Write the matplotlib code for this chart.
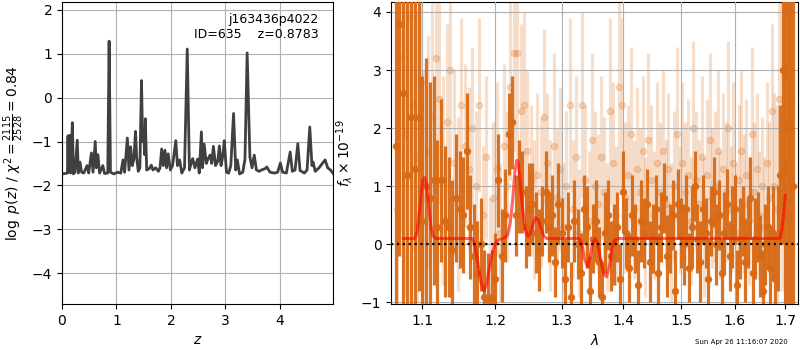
import matplotlib
matplotlib.use("Agg")
import matplotlib.pyplot as plt
from matplotlib.ticker import NullLocator, NullFormatter, FixedLocator, FixedFormatter

# p(z) curve
z = [0.00, 0.05, 0.10, 0.11, 0.12, 0.14, 0.16, 0.19, 0.21, 0.24,
     0.28, 0.30, 0.33, 0.36, 0.40, 0.46, 0.49, 0.54, 0.57, 0.61,
     0.63, 0.66, 0.69, 0.75, 0.78, 0.84, 0.865, 0.89, 0.95, 1.02,
     1.08, 1.12, 1.15, 1.20, 1.23, 1.26, 1.29, 1.32, 1.35, 1.37,
     1.40, 1.43, 1.46, 1.48, 1.50, 1.52, 1.53, 1.555, 1.60, 1.64,
     1.67, 1.72, 1.77, 1.80, 1.83, 1.86, 1.89, 1.92, 1.95, 1.99,
     2.03, 2.09, 2.12, 2.16, 2.20, 2.25, 2.30, 2.34, 2.37, 2.40,
     2.44, 2.49, 2.52, 2.56, 2.58, 2.61, 2.65, 2.68, 2.72, 2.75,
     2.78, 2.82, 2.86, 2.89, 2.92, 2.95, 2.98, 3.02, 3.06, 3.10,
     3.15, 3.19, 3.22, 3.26, 3.32, 3.36, 3.40, 3.45, 3.49, 3.53,
     3.57, 3.62, 3.68, 3.73, 3.76, 3.82, 3.90, 3.96, 4.01, 4.05,
     4.12, 4.19, 4.23, 4.28, 4.33, 4.37, 4.45, 4.50, 4.55, 4.59,
     4.61, 4.65, 4.72, 4.78, 4.83, 4.88, 4.93, 4.98]
logpz = [-1.74, -1.73, -1.72, -0.87, -1.70, -0.86, -1.72, -0.57, -1.74, -1.70,
         -0.97, -1.72, -1.47, -1.70, -1.72, -1.55, -1.72, -1.26, -1.70, -1.00,
         -1.60, -1.30, -1.72, -1.55, -1.73, -1.72, 1.29, -1.70, -1.74, -1.70,
         -1.72, -1.42, -1.70, -0.92, -1.65, -1.12, -1.55, -1.40, -0.77, -1.35,
         -1.68, -1.60, 0.39, -1.00, -0.86, -1.30, -0.48, -1.65, -1.62, -1.54,
         -1.65, -1.60, -1.68, -1.60, -1.17, -1.55, -1.20, -1.60, -1.28, -1.65,
         -1.55, -0.98, -1.55, -1.42, -1.72, -1.60, 1.11, -1.65, -1.50, -1.39,
         -1.60, -1.40, -1.72, -0.78, -1.60, -1.06, -1.50, -1.40, -1.31, -1.50,
         -1.11, -1.55, -1.45, -1.10, -1.55, -1.35, -0.98, -1.70, -1.72, -1.55,
         -0.36, -1.65, -1.42, -1.74, -1.70, -1.40, 1.02, -1.35, -1.60, -1.31,
         -1.65, -1.68, -1.64, -1.62, -1.58, -1.70, -1.72, -1.70, -1.49, -1.70,
         -1.72, -1.24, -1.68, -1.65, -1.05, -1.66, -1.72, -1.65, -0.67, -1.55,
         -1.47, -1.68, -1.60, -1.50, -1.42, -1.60, -1.65, -1.73]

# spectrum, solid points
wave_a = [1.065, 1.070, 1.075, 1.080, 1.085, 1.090, 1.095, 1.100, 1.105, 1.110,
          1.115, 1.120, 1.125, 1.130, 1.135, 1.140, 1.145, 1.150, 1.155, 1.160,
          1.165, 1.170, 1.175, 1.180, 1.185, 1.190, 1.195, 1.200, 1.205, 1.210,
          1.215, 1.220, 1.225, 1.230, 1.235, 1.240, 1.245, 1.250, 1.255, 1.260,
          1.265, 1.270, 1.275, 1.280, 1.285, 1.290, 1.295, 1.300, 1.305, 1.310,
          1.315, 1.320, 1.325, 1.330, 1.335, 1.340, 1.345, 1.350, 1.355, 1.360,
          1.365, 1.370, 1.375, 1.380, 1.385, 1.390, 1.395, 1.400, 1.405, 1.410,
          1.415, 1.420, 1.425, 1.430, 1.435, 1.440, 1.445, 1.450, 1.455, 1.460,
          1.465, 1.470, 1.475, 1.480, 1.485, 1.490, 1.495, 1.500, 1.505, 1.510,
          1.515, 1.520, 1.525, 1.530, 1.535, 1.540, 1.545, 1.550, 1.555, 1.560,
          1.565, 1.570, 1.575, 1.580, 1.585, 1.590, 1.595, 1.600, 1.605, 1.610,
          1.615, 1.620, 1.625, 1.630, 1.635, 1.640, 1.645, 1.650, 1.655, 1.660,
          1.665, 1.670, 1.675, 1.680, 1.685, 1.690, 1.695, 1.700, 1.705, 1.710,
          1.715]
flux_a = [1.7, 3.8, 2.6, 1.2, 2.2, 1.3, 2.2, 0.4, 1.0, 0.8,
          1.1, 0.3, 1.1, 0.4, 0.3, -0.1, 0.8, 0.6, 0.5, 1.6,
          0.3, -0.2, -0.5, 0.0, -0.9, -0.95, -0.9, -0.6, 1.1, -0.2,
          0.5, 1.9, 2.1, 0.5, 1.0, 0.9, 0.3, 0.6, 0.7, 0.2,
          -0.1, 0.4, 0.9, 0.3, 0.5, -0.3, 0.7, 0.2, -0.6, 0.3,
          -0.9, 0.4, 0.0, -0.5, 0.6, 0.3, -0.8, 0.1, 0.4, -0.3,
          -0.9, 0.2, 0.5, -0.2, 0.0, 0.3, -0.6, 0.9, 0.2, -0.4,
          0.5, 0.1, -0.7, 0.4, 0.2, 0.7, -0.3, 0.1, 0.6, -0.5,
          0.3, 0.8, -0.2, 0.1, 0.5, -0.8, 0.7, 0.2, 0.0, 0.6,
          -0.4, 0.3, 1.0, 0.1, -0.3, 0.6, 0.2, -0.6, 0.4, 0.9,
          0.0, 0.5, -0.5, 0.2, 0.7, -0.2, 0.3, 0.6, -0.7, 0.1,
          0.4, -0.3, 0.2, 0.8, -0.5, 0.1, 0.3, -0.2, -0.8, 0.0,
          0.3, -0.4, 0.2, -0.6, 0.1, 1.2, 3.0, 1.3, 0.5, 2.0,
          1.0]
err_a = [4.0, 4.0, 4.0, 3.5, 3.5, 3.0, 3.0, 2.5, 2.2, 2.0,
         1.8, 1.5, 1.4, 1.3, 1.2, 1.2, 1.1, 1.0, 1.0, 1.0,
         0.9, 0.9, 0.9, 0.8, 0.8, 0.8, 0.8, 0.8, 0.8, 0.8,
         0.8, 0.7, 0.8, 0.7, 0.8, 0.7, 0.7, 0.8, 0.7, 0.7,
         0.7, 0.6, 0.7, 0.6, 0.7, 0.6, 0.7, 0.6, 0.7, 0.6,
         0.6, 0.7, 0.6, 0.7, 0.6, 0.7, 0.6, 0.6, 0.7, 0.6,
         0.6, 0.7, 0.6, 0.6, 0.7, 0.6, 0.6, 0.7, 0.6, 0.6,
         0.7, 0.6, 0.6, 0.7, 0.6, 0.6, 0.7, 0.6, 0.6, 0.7,
         0.6, 0.6, 0.7, 0.6, 0.6, 0.7, 0.6, 0.6, 0.7, 0.6,
         0.6, 0.7, 0.6, 0.6, 0.7, 0.6, 0.6, 0.7, 0.6, 0.6,
         0.7, 0.6, 0.6, 0.7, 0.6, 0.6, 0.7, 0.6, 0.6, 0.7,
         0.6, 0.7, 0.6, 0.7, 0.6, 0.7, 0.6, 0.7, 0.7, 0.7,
         0.7, 0.7, 0.8, 0.8, 0.9, 1.2, 3.0, 4.0, 5.0, 6.0,
         6.0]

# spectrum, faint points
wave_b = [1.0675, 1.0725, 1.0775, 1.0825, 1.0875, 1.0925, 1.0975, 1.1025, 1.1075, 1.1125,
          1.1175, 1.1225, 1.1275, 1.1325, 1.1375, 1.1425, 1.1475, 1.1525, 1.1575, 1.1625,
          1.1675, 1.1725, 1.1775, 1.1825, 1.1875, 1.1925, 1.1975, 1.2025, 1.2075, 1.2125,
          1.2175, 1.2225, 1.2275, 1.2325, 1.2375, 1.2425, 1.2475, 1.2525, 1.2575, 1.2625,
          1.2675, 1.2725, 1.2775, 1.2825, 1.2875, 1.2925, 1.2975, 1.3025, 1.3075, 1.3125,
          1.3175, 1.3225, 1.3275, 1.3325, 1.3375, 1.3425, 1.3475, 1.3525, 1.3575, 1.3625,
          1.3675, 1.3725, 1.3775, 1.3825, 1.3875, 1.3925, 1.3975, 1.4025, 1.4075, 1.4125,
          1.4175, 1.4225, 1.4275, 1.4325, 1.4375, 1.4425, 1.4475, 1.4525, 1.4575, 1.4625,
          1.4675, 1.4725, 1.4775, 1.4825, 1.4875, 1.4925, 1.4975, 1.5025, 1.5075, 1.5125,
          1.5175, 1.5225, 1.5275, 1.5325, 1.5375, 1.5425, 1.5475, 1.5525, 1.5575, 1.5625,
          1.5675, 1.5725, 1.5775, 1.5825, 1.5875, 1.5925, 1.5975, 1.6025, 1.6075, 1.6125,
          1.6175, 1.6225, 1.6275, 1.6325, 1.6375, 1.6425, 1.6475, 1.6525, 1.6575, 1.6625,
          1.6675, 1.6725, 1.6775, 1.6825, 1.6875, 1.6925, 1.6975, 1.7025, 1.7075, 1.7125]
flux_b = [0.6, 3.2, 1.9, 3.9, 2.4, 1.5, 2.8, 0.8, 1.6, 2.2,
          3.2, 2.5, 1.1, 2.1, 3.0, 1.4, 0.7, 2.4, 1.7, 1.3,
          2.0, 1.0, 2.4, 0.5, 1.5, -0.3, 0.8, 1.3, 0.2, 1.7,
          1.0, 2.7, 3.3, 3.3, 2.3, 2.4, 1.6, 1.1, 0.6, 1.2,
          0.9, 2.2, 1.4, 0.5, 1.7, 0.8, 1.3, 0.3, 1.0, 2.4,
          0.6, 1.5, 0.2, 2.4, 1.1, 0.4, 1.8, 1.0, 0.7, 1.5,
          0.9, 0.3, 2.3, 1.4, 0.5, 2.7, 2.4, 0.8, 1.2, 1.9,
          0.6, 1.3, 0.9, 1.6, 0.3, 1.8, 1.1, 0.5, 1.4, 0.9,
          1.6, 0.7, 1.3, 0.2, 1.0, 1.9, 0.6, 1.4, 0.9, 1.2,
          0.4, 2.0, 1.1, 0.7, 1.5, 0.3, 1.2, 1.8, 0.8, 1.0,
          1.6, 0.5, 1.3, 0.9, 2.0, 0.6, 1.4, 0.2, 1.1, 1.6,
          0.7, 1.2, 0.4, 1.9, 0.9, 1.3, 0.5, 1.0, 0.3, 1.4,
          0.8, 2.3, 1.0, 0.6, 2.5, 1.7, 3.0, 2.9, 4.0, 2.5]
err_b = [3.0, 3.0, 2.8, 2.8, 2.5, 2.5, 2.3, 2.2, 2.0, 2.0,
         1.9, 1.8, 1.8, 1.7, 1.6, 1.6, 1.5, 1.5, 1.4, 1.4,
         1.4, 1.3, 1.5, 1.2, 1.4, 1.1, 1.3, 1.5, 1.2, 1.4,
         1.3, 1.6, 1.7, 1.8, 1.5, 1.6, 1.4, 1.3, 1.2, 1.4,
         1.3, 1.5, 1.2, 1.3, 1.6, 1.2, 1.4, 1.1, 1.3, 1.5,
         1.2, 1.4, 1.1, 1.6, 1.3, 1.2, 1.5, 1.3, 1.2, 1.4,
         1.3, 1.1, 1.6, 1.4, 1.2, 1.8, 1.5, 1.3, 1.2, 1.5,
         1.2, 1.4, 1.1, 1.3, 1.2, 1.5, 1.3, 1.1, 1.4, 1.2,
         1.4, 1.1, 1.3, 1.2, 1.3, 1.5, 1.1, 1.4, 1.2, 1.3,
         1.1, 1.5, 1.2, 1.1, 1.4, 1.2, 1.3, 1.5, 1.2, 1.3,
         1.4, 1.1, 1.3, 1.2, 1.5, 1.1, 1.4, 1.2, 1.3, 1.4,
         1.2, 1.3, 1.1, 1.5, 1.2, 1.3, 1.1, 1.2, 1.2, 1.4,
         1.3, 1.5, 1.6, 1.8, 2.0, 2.5, 3.0, 3.5, 4.0, 4.0]

# best-fit model
wave_m = [1.075, 1.090, 1.093, 1.096, 1.099, 1.101, 1.103, 1.105, 1.108, 1.111,
          1.114, 1.118, 1.168, 1.172, 1.176, 1.180, 1.184, 1.188, 1.192, 1.196,
          1.200, 1.205, 1.212, 1.218, 1.222, 1.226, 1.229, 1.232, 1.234, 1.237,
          1.240, 1.244, 1.248, 1.252, 1.256, 1.260, 1.264, 1.268, 1.272, 1.277,
          1.328, 1.332, 1.336, 1.341, 1.345, 1.349, 1.353, 1.357, 1.362, 1.367,
          1.372, 1.377, 1.381, 1.386, 1.392, 1.689, 1.693, 1.697, 1.700]
flux_m = [0.10, 0.10, 0.22, 0.55, 0.95, 1.12, 1.15, 1.05, 0.70, 0.33,
          0.14, 0.10, 0.10, -0.05, -0.35, -0.65, -0.80, -0.68, -0.40, -0.15,
          0.00, 0.08, 0.10, 0.15, 0.35, 0.80, 1.25, 1.45, 1.40, 1.05,
          0.65, 0.28, 0.14, 0.18, 0.35, 0.46, 0.42, 0.28, 0.15, 0.10,
          0.10, 0.00, -0.25, -0.39, -0.22, 0.02, 0.10, 0.02, -0.25, -0.50,
          -0.56, -0.35, -0.05, 0.08, 0.10, 0.10, 0.25, 0.55, 0.84]

orange = "#d86a16"

fig = plt.figure(figsize=(8, 3.5), dpi=100)
ax1 = fig.add_axes([0.0775, 0.131, 0.339, 0.863])
ax2 = fig.add_axes([0.489, 0.131, 0.509, 0.863])

# left: p(z)
ax1.plot(z, logpz, color="#404040", lw=2)
ax1.set_xlim(0, 4.98)
ax1.set_ylim(-4.71, 2.18)
ax1.set_xticks([0, 1, 2, 3, 4])
ax1.set_yticks([-4, -3, -2, -1, 0, 1, 2])
ax1.grid(True)
ax1.set_xlabel("$z$")
ax1.set_ylabel(r"$\log\ p(z)$ / $\chi^2=\frac{2115}{2528}=0.84$")
ax1.text(0.945, 0.965, "j163436p4022\nID=635    z=0.8783",
         transform=ax1.transAxes, ha="right", va="top", fontsize=9)

# right: spectrum
ax2.errorbar(wave_b, flux_b, yerr=err_b, color=orange, alpha=0.22,
             marker="o", ms=4.5, ls="none", elinewidth=2.3, zorder=2)
ax2.errorbar(wave_a, flux_a, yerr=err_a, color=orange, alpha=0.95,
             marker="o", ms=4.3, ls="none", elinewidth=2.3, zorder=3)
ax2.plot(wave_m, flux_m, color="red", alpha=0.6, lw=2.2, zorder=4)
ax2.axhline(0, color="black", ls=":", lw=1.6, zorder=5)

ax2.set_xscale("log")
ax2.set_xlim(1.0595, 1.727)
ax2.set_ylim(-1.03, 4.17)
ax2.xaxis.set_major_locator(FixedLocator([1.1, 1.2, 1.3, 1.4, 1.5, 1.6, 1.7]))
ax2.xaxis.set_major_formatter(FixedFormatter(["1.1", "1.2", "1.3", "1.4", "1.5", "1.6", "1.7"]))
ax2.xaxis.set_minor_locator(NullLocator())
ax2.xaxis.set_minor_formatter(NullFormatter())
ax2.set_yticks([-1, 0, 1, 2, 3, 4])
ax2.grid(True)
ax2.set_axisbelow(False)
ax2.set_xlabel(r"$\lambda$")
ax2.set_ylabel(r"$f_\lambda \times 10^{-19}$")

fig.text(0.985, 0.024, "Sun Apr 26 11:16:07 2020", ha="right", va="center", fontsize=5)

fig.savefig("out.png", dpi=100)
